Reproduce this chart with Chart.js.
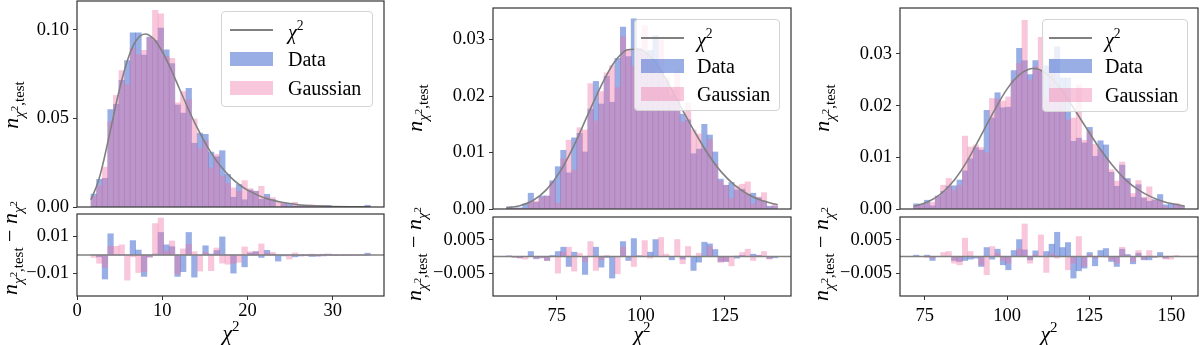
<!DOCTYPE html>
<html><head><meta charset="utf-8">
<script src="https://cdn.jsdelivr.net/npm/chart.js@4.4.1/dist/chart.umd.min.js"></script>
<style>
html,body{margin:0;padding:0;background:#fff;}
body{width:1200px;height:345px;position:relative;overflow:hidden;font-family:'Liberation Serif','DejaVu Serif',serif;color:#000;}
canvas{position:absolute;}
.lbl{position:absolute;white-space:nowrap;line-height:1;font-size:22px;transform:translate(-50%,-50%);}
.rot{transform:translate(-50%,-50%) rotate(-90deg);}
.sb{font-size:0.68em;position:relative;top:0.38em;}
.sp{font-size:0.72em;position:relative;top:-0.5em;}
.sp2{font-size:0.68em;position:relative;top:-0.6em;}
.leg{position:absolute;background:rgba(255,255,255,0.8);border:1px solid #d4d4d4;border-radius:4px;box-sizing:border-box;}
.leg .ln{position:absolute;height:2px;background:#808080;}
.leg .pt{position:absolute;}
.leg .tx{position:absolute;font-size:20px;line-height:1;transform:translateY(-50%);white-space:nowrap;}
</style></head><body>
<script>
// ---------------- DATA ----------------
const N_BINS = 50;

// Panel 1
const binRange1 = [1.64, 34.40];
const data1 = [0.0073,0.0156,0.0162,0.055,0.058,0.0715,0.0827,0.0984,0.0984,0.0858,
 0.096,0.094,0.101,0.0887,0.081,0.0576,0.053,0.067,0.036,0.0417,
 0.041,0.031,0.0284,0.0318,0.0184,0.0055,0.0127,0.0041,0.0096,0.0089,
 0.0044,0.0072,0.0043,0.0,0.0019,0.002,0.0006,0.0008,0.0006,0,
 0,0,0.0009,0,0,0,0,0,0,0.001];
const gauss1 = [0.006,0.0121,0.0225,0.0482,0.063,0.077,0.069,0.0896,0.086,0.0884,
 0.0956,0.111,0.109,0.085,0.084,0.0588,0.0652,0.0606,0.0497,0.033,
 0.0374,0.022,0.0298,0.0176,0.0134,0.0108,0.0087,0.0149,0.0104,0.0089,
 0.0117,0.0057,0.0053,0.003,0.0024,0,0.0027,0.0008,0.001,0.0013,
 0,0.001,0,0,0,0,0,0,0,0];
const resData1 = [0,-0.001,-0.013,0.0115,0,0,0,0.0078,0.0027,-0.0116,
 -0.001,0.0005,0.0122,0.0055,0.0045,-0.0116,-0.009,0.0122,-0.012,0,
 0.005,0.0005,0.0024,0.0098,0,-0.0098,0,-0.0064,0.001,0.0018,
 -0.0013,0.0025,0.0005,-0.0033,-0.0005,0,-0.001,-0.0005,-0.0004,-0.0008,
 -0.0006,-0.0005,0.0005,-0.0003,-0.0002,-0.0002,-0.0001,-0.0001,-0.0001,0.001];
const resGauss1 = [-0.0013,-0.0045,-0.0067,0.0047,0.0047,0.0055,-0.0136,-0.001,-0.0095,-0.009,
 -0.0013,0.017,0.020,0.002,0.0076,-0.0104,0.0033,0.0058,0.0018,-0.0087,
 0.0015,-0.0085,0.0038,-0.0044,-0.005,-0.0045,-0.004,0.0044,0.0018,0.0018,
 0.006,0.001,0.0015,0,0,-0.0022,0.0011,-0.0005,-0.0003,0.0005,
 -0.0006,0.0005,-0.0004,-0.0003,-0.0002,-0.0002,-0.0001,-0.0001,-0.0001,-0.0001];
const chiX1 = [1.64,2.5,3,4,5,6,7,8,9,10,11,12,13,14,15,16,17,18,19,20,22,24,26,28,30,32,34.4];
const chiY1 = [0.0041,0.0146,0.0235,0.0451,0.0668,0.0840,0.0944,0.0977,0.0949,0.0877,0.0779,0.0669,0.0559,0.0456,0.0365,0.0286,0.0221,0.0169,0.0127,0.0095,0.0051,0.0027,0.0013,0.00067,0.00032,0.00015,0.00006];
const xLim1 = [0, 36.0], yLim1 = [0, 0.1163], rLim1 = [-0.0222, 0.0222];
const yTicks1 = [0, 0.05, 0.10], yTickLabels1 = ['0.00','0.05','0.10'];
const rTicks1 = [-0.01, 0.01], rTickLabels1 = ['\u22120.01','0.01'];
const xTicks1 = [0, 10, 20, 30], xTickLabels1 = ['0','10','20','30'];

// Panel 2
const binRange2 = [60.0, 140.7];
const data2 = [0.0004,0.0002,0.0002,0.0009,0.0028,0.0012,0.0023,0.0023,0.005,0.0075,
 0.0104,0.0064,0.0126,0.0134,0.0101,0.0177,0.0226,0.0186,0.0235,0.0189,
 0.0267,0.0322,0.027,0.0337,0.0284,0.0277,0.0281,0.0307,0.0242,0.0227,
 0.0202,0.0194,0.0168,0.0158,0.0098,0.0106,0.015,0.0131,0.0101,0.0053,
 0.0042,0.0047,0.0034,0.0035,0.0026,0.0028,0.002,0.0014,0.0005,0.0005];
const gauss2 = [0.0002,0.0001,0.0001,0.0001,0.0013,0.0014,0.0021,0.0023,0.0047,0.001,
 0.0089,0.0122,0.0069,0.0144,0.014,0.0222,0.0156,0.0208,0.0241,0.0254,
 0.0215,0.0305,0.0282,0.0253,0.0284,0.0325,0.0263,0.0256,0.0299,0.0234,
 0.0212,0.0245,0.0154,0.0188,0.014,0.0133,0.0107,0.0123,0.008,0.005,
 0.0042,0.0019,0.0041,0.0044,0.0048,0.0009,0.0021,0.0029,0.0003,0.0009];
const resData2 = [0.0002,-0.0002,-0.0004,0,0.0015,-0.0007,-0.0003,-0.0012,0.0003,0.0015,
 0.0028,-0.003,0.0013,0,-0.0054,0,0.0028,-0.0032,-0.0003,-0.0065,
 0,0.0045,-0.0012,0.0054,0.0002,0,0.0013,0.0051,0,0,
 -0.001,0,-0.0008,0,-0.0042,-0.0017,0.0043,0.0038,0.0021,-0.0015,
 -0.0015,0,-0.0005,0.0003,0,0.0007,0.0003,0,-0.0006,-0.0004];
const resGauss2 = [0,-0.0003,-0.0005,-0.0008,0,-0.0005,-0.0005,-0.0012,0,-0.005,
 0.0013,0.0028,-0.0044,0.001,-0.0015,0.0045,-0.0042,-0.001,0.0003,0,
 -0.0052,0.0028,0,-0.003,0.0002,0.0048,-0.0005,0,0.0057,0.0007,
 0,0.0051,-0.0022,0.003,0,0.001,0,0.003,0,-0.0018,
 -0.0015,-0.0028,0.0002,0.0012,0.0022,-0.0012,0.0004,0.0015,-0.0008,0];
const chiX2 = [60,64,68,72,76,80,84,88,92,96,98,100,104,108,112,116,120,124,128,132,136,140.7];
const chiY2 = [0.00018,0.00059,0.00155,0.00348,0.00666,0.0111,0.0164,0.0216,0.0259,0.0282,0.0283,0.0282,0.0262,0.0224,0.0180,0.0137,0.00975,0.00653,0.0042,0.00258,0.0015,0.00076];
const xLim2 = [56.0, 144.7], yLim2 = [0, 0.0356], rLim2 = [-0.0119, 0.0119];
const yTicks2 = [0, 0.01, 0.02, 0.03], yTickLabels2 = ['0.00','0.01','0.02','0.03'];
const rTicks2 = [-0.005, 0.005], rTickLabels2 = ['\u22120.005','0.005'];
const xTicks2 = [75, 100, 125], xTickLabels2 = ['75','100','125'];

// Panel 3
const binRange3 = [71.57, 154.0];
const data3 = [0.001,0.0009,0.0017,0.0006,0.0025,0.0034,0.0044,0.0045,0.0056,0.0074,
 0.0097,0.0119,0.0114,0.0191,0.0176,0.0225,0.0196,0.0197,0.0268,0.0311,
 0.0287,0.026,0.0287,0.0267,0.0277,0.029,0.0314,0.0254,0.0254,0.0131,
 0.0137,0.0128,0.0158,0.0102,0.0132,0.0124,0.0071,0.0044,0.0085,0.0059,
 0.0023,0.0047,0.0021,0.0015,0.0018,0.0028,0.0008,0.001,0.0008,0.0006];
const gauss3 = [0.0006,0.0009,0.001,0.0013,0.0025,0.0046,0.0059,0.0037,0.0046,0.0141,
 0.012,0.0124,0.0119,0.0109,0.0214,0.0213,0.0209,0.0217,0.025,0.0282,
 0.0365,0.025,0.0275,0.0332,0.0214,0.0261,0.0236,0.0227,0.0172,0.0176,
 0.024,0.0133,0.0151,0.0125,0.0114,0.0098,0.0076,0.0054,0.0091,0.0056,
 0.003,0.0055,0.0023,0.0043,0.0017,0.0016,0.0005,0.0002,0.0011,0.0006];
const resData3 = [0.0004,0,0.0004,-0.0012,0,0,0,-0.0012,-0.0015,-0.0012,
 -0.0008,-0.0005,-0.003,0.0027,-0.0008,0.0022,-0.0025,-0.004,0.0018,0.0051,
 0.002,-0.001,0.0017,0,0.0015,0.0037,0.0073,0.0027,0.0042,-0.0065,
 -0.0043,-0.0035,0.0012,-0.0028,0.0018,0.0024,-0.0015,-0.003,0.0022,0.0006,
 -0.0022,0.001,-0.001,-0.001,-0.0002,0.0012,-0.0005,0,0,0];
const resGauss3 = [0,0,-0.0003,-0.0005,0,0.0012,0.0015,-0.002,-0.0025,0.0055,
 0.0015,0,-0.0025,-0.0055,0.003,0.001,-0.0012,-0.002,0,0.0022,
 0.0098,-0.002,0.0005,0.0065,-0.0048,0.0008,-0.0005,0,-0.004,-0.002,
 0.006,-0.003,0.0005,-0.0005,0,-0.0002,-0.001,-0.002,0.0028,0.0003,
 -0.0015,0.0018,-0.0008,0.0018,-0.0003,0,-0.0008,-0.0008,0.0003,0];
const chiX3 = [71.6,76,80,84,88,92,96,100,104,108,112,116,120,124,128,132,136,140,144,148,154];
const chiY3 = [0.0005,0.00139,0.0030,0.00563,0.0094,0.0141,0.0189,0.0232,0.0261,0.0272,0.0262,0.0235,0.0198,0.0158,0.0119,0.0085,0.0057,0.0037,0.0023,0.00137,0.00058];
const xLim3 = [67.45, 158.1], yLim3 = [0, 0.0389], rLim3 = [-0.0119, 0.0119];
const yTicks3 = [0, 0.01, 0.02, 0.03], yTickLabels3 = ['0.00','0.01','0.02','0.03'];
const rTicks3 = [-0.005, 0.005], rTickLabels3 = ['\u22120.005','0.005'];
const xTicks3 = [75, 100, 125, 150], xTickLabels3 = ['75','100','125','150'];

const legendLabels = ['<i>\u03c7</i><span class="sp2">2</span>', 'Data', 'Gaussian'];

// ---------------- STYLE / LAYOUT ----------------
const BLUE = 'rgba(60,100,205,0.52)';
const PINK = 'rgba(238,115,165,0.40)';
const LINE_C = '#808080';
const FRAME_C = '#333333';
const AW = 90, PADT = 3, PADR = 4, TOP_PADB = 14;
const tickFont = {family:"'Liberation Serif', serif", size:18.5};

const panels = [
 {range:binRange1, data:data1, gauss:gauss1, resData:resData1, resGauss:resGauss1, chiX:chiX1, chiY:chiY1,
  xLim:xLim1, yLim:yLim1, rLim:rLim1, yTicks:yTicks1, yTickLabels:yTickLabels1, rTicks:rTicks1, rTickLabels:rTickLabels1, xTicks:xTicks1, xTickLabels:xTickLabels1,
  top:{L:77,R:384,T:1,B:207}, res:{L:77,R:384,T:214,B:296}, xPad:0,
  yLab:[11,105], rLab:[10,248], xLab:[231,333],
  leg:{L:221,T:11,W:152,H:96,lx:8,lw:43,rows:[17.5,47,76],tx:66,ph:14}},
 {range:binRange2, data:data2, gauss:gauss2, resData:resData2, resGauss:resGauss2, chiX:chiX2, chiY:chiY2,
  xLim:xLim2, yLim:yLim2, rLim:rLim2, yTicks:yTicks2, yTickLabels:yTickLabels2, rTicks:rTicks2, rTickLabels:rTickLabels2, xTicks:xTicks2, xTickLabels:xTickLabels2,
  top:{L:493,R:791,T:8,B:209}, res:{L:493,R:791,T:217,B:296}, xPad:5,
  yLab:[415,108], rLab:[414,254], xLab:[642,334],
  leg:{L:634,T:19,W:146,H:92,lx:6,lw:43,rows:[17.5,46,74],tx:62,ph:14}},
 {range:binRange3, data:data3, gauss:gauss3, resData:resData3, resGauss:resGauss3, chiX:chiX3, chiY:chiY3,
  xLim:xLim3, yLim:yLim3, rLim:rLim3, yTicks:yTicks3, yTickLabels:yTickLabels3, rTicks:rTicks3, rTickLabels:rTickLabels3, xTicks:xTicks3, xTickLabels:xTickLabels3,
  top:{L:900,R:1198,T:8,B:209}, res:{L:900,R:1198,T:217,B:296}, xPad:5,
  yLab:[822,108], rLab:[821,254], xLab:[1049,334],
  leg:{L:1042,T:19,W:146,H:93,lx:6,lw:43,rows:[17.5,46,74.5],tx:62,ph:14}}
];

function centers(range){
  const w = (range[1]-range[0])/N_BINS;
  return Array.from({length:N_BINS}, (_, i) => range[0] + w*(i+0.5));
}
const framePlugin = {id:'frame', afterDraw(chart){
  const a = chart.chartArea, c = chart.ctx;
  c.save(); c.strokeStyle = FRAME_C; c.lineWidth = 1.2;
  c.strokeRect(a.left, a.top, a.right-a.left, a.bottom-a.top);
  c.restore();
}};
function addCanvas(box, xh, padB){
  const cv = document.createElement('canvas');
  const w = AW + (box.R-box.L) + PADR, h = PADT + (box.B-box.T) + xh + padB;
  cv.width = w; cv.height = h;
  cv.style.width = w+'px'; cv.style.height = h+'px';
  cv.style.left = (box.L-AW)+'px'; cv.style.top = (box.T-PADT)+'px';
  document.body.appendChild(cv);
  return cv;
}
function barDS(xs, ys, color, order){
  return {type:'bar', data: xs.map((x,i)=>({x:x, y:ys[i]})), backgroundColor:color, borderWidth:0,
    grouped:false, barPercentage:1, categoryPercentage:1, order:order};
}
function lineDS(xs, ys, order){
  return {type:'line', data: xs.map((x,i)=>({x:x, y:ys[i]})), borderColor:LINE_C, borderWidth:1.6,
    pointRadius:0, fill:false, cubicInterpolationMode:'monotone', order:order};
}
function yScale(lim, ticks, labels){
  return {type:'linear', min:lim[0], max:lim[1],
    afterFit: s => { s.width = AW; s.paddingTop = 0; s.paddingBottom = 0; },
    afterBuildTicks: s => { s.ticks = ticks.map(v => ({value:v})); },
    ticks:{callback:(v,i)=>labels[i], font:tickFont, color:'#000', padding:4, autoSkip:false},
    grid:{display:true, drawOnChartArea:false, drawTicks:true, tickLength:4, color:FRAME_C, lineWidth:1},
    border:{display:false}};
}
function xScale(lim, ticks, labels, show, pad, xh){
  const s = {type:'linear', min:lim[0], max:lim[1], offset:false, display:show,
    grid:{display:true, drawOnChartArea:false, drawTicks:true, tickLength:4, color:FRAME_C, lineWidth:1, offset:false},
    border:{display:false}};
  if (show){
    s.afterFit = sc => { sc.height = xh; sc.paddingLeft = 0; sc.paddingRight = 0; };
    s.afterBuildTicks = sc => { sc.ticks = ticks.map(v => ({value:v})); };
    s.ticks = {callback:(v,i)=>labels[i], font:tickFont, color:'#000', padding:pad, autoSkip:false, maxRotation:0, minRotation:0};
  }
  return s;
}
function baseOpts(padB){
  return {responsive:false, animation:false, devicePixelRatio:1,
    layout:{autoPadding:false, padding:{top:PADT, right:PADR, bottom:padB, left:0}},
    plugins:{legend:{display:false}, tooltip:{enabled:false}}};
}
function addLabel(html, pos, rot){
  const d = document.createElement('div');
  d.className = 'lbl' + (rot ? ' rot' : '');
  d.style.left = pos[0]+'px'; d.style.top = pos[1]+'px';
  d.innerHTML = html;
  document.body.appendChild(d);
}
function addLegend(p){
  const d = document.createElement('div'); d.className = 'leg';
  d.style.left = p.L+'px'; d.style.top = p.T+'px'; d.style.width = p.W+'px'; d.style.height = p.H+'px';
  let h = `<div class="ln" style="left:${p.lx}px;top:${p.rows[0]-1}px;width:${p.lw}px"></div>`;
  h += `<div class="pt" style="left:${p.lx}px;top:${p.rows[1]-p.ph/2}px;width:${p.lw}px;height:${p.ph}px;background:${BLUE}"></div>`;
  h += `<div class="pt" style="left:${p.lx}px;top:${p.rows[2]-p.ph/2}px;width:${p.lw}px;height:${p.ph}px;background:${PINK}"></div>`;
  for (let i = 0; i < 3; i++) h += `<div class="tx" style="left:${p.tx}px;top:${p.rows[i]+(i===0?2:0)}px">${legendLabels[i]}</div>`;
  d.innerHTML = h;
  document.body.appendChild(d);
}

const yLabHTML = '<i>n</i><span class="sb"><i>\u03c7</i><span class="sp">2</span>,test</span>';
const rLabHTML = yLabHTML + ' \u2212 <i>n</i><span class="sb"><i>\u03c7</i><span class="sp">2</span></span>';
const xLabHTML = '<i>\u03c7</i><span class="sp2">2</span>';

panels.forEach(p => {
  const ctr = centers(p.range);
  const cvT = addCanvas(p.top, 0, TOP_PADB);
  new Chart(cvT, {type:'bar',
    data:{datasets:[lineDS(p.chiX, p.chiY, 0), barDS(ctr, p.gauss, PINK, 1), barDS(ctr, p.data, BLUE, 2)]},
    options:Object.assign(baseOpts(TOP_PADB), {scales:{x:xScale(p.xLim, p.xTicks, p.xTickLabels, false, 0, 0), y:yScale(p.yLim, p.yTicks, p.yTickLabels)}}),
    plugins:[framePlugin]});
  const XH = 40;
  const cvR = addCanvas(p.res, XH, 0);
  new Chart(cvR, {type:'bar',
    data:{datasets:[lineDS([p.xLim[0], p.xLim[1]], [0, 0], 0), barDS(ctr, p.resGauss, PINK, 1), barDS(ctr, p.resData, BLUE, 2)]},
    options:Object.assign(baseOpts(0), {scales:{x:xScale(p.xLim, p.xTicks, p.xTickLabels, true, p.xPad, XH), y:yScale(p.rLim, p.rTicks, p.rTickLabels)}}),
    plugins:[framePlugin]});
  addLabel(yLabHTML, p.yLab, true);
  addLabel(rLabHTML, p.rLab, true);
  addLabel(xLabHTML, p.xLab, false);
  addLegend(p.leg);
});
</script></body></html>
